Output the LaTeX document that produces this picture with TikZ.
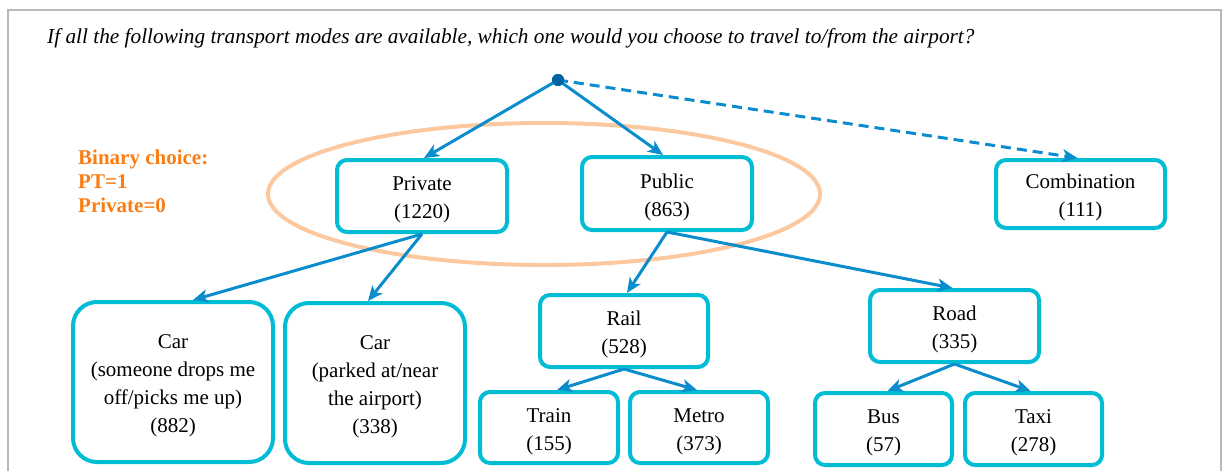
\documentclass[tikz,border=0pt]{standalone}
\usepackage{fontspec}
\setmainfont{Liberation Serif}
\usetikzlibrary{arrows.meta,calc}

\definecolor{boxcyan}{RGB}{0,188,212}
\definecolor{linkblue}{RGB}{10,140,205}
\definecolor{rootblue}{RGB}{0,100,160}
\definecolor{ringpeach}{RGB}{252,200,160}
\definecolor{noteorange}{RGB}{250,125,20}
\definecolor{framegray}{RGB}{185,185,185}

% extra room above the first text line of a box
\newcommand{\firstgap}{\rule{0pt}{22pt}}

\tikzset{
  box/.style={draw=boxcyan, line width=4, fill=white, rounded corners=10,
    align=center, inner sep=0, font=\fontsize{21}{28}\selectfont},
  bigbox/.style={box, rounded corners=24},
  link/.style={draw=linkblue, line width=3,
    -{Stealth[length=15, width=13, inset=4]}},
  dashlink/.style={link, dash pattern=on 10 off 6},
}

\begin{document}
\begin{tikzpicture}[x=1pt, y=-1pt]
\useasboundingbox (0,0) rectangle (1223,471);

% page frame
\draw[framegray, line width=1.3] (8,471) -- (8,10) -- (1221,10) -- (1221,471);

% question
\node[anchor=base west, inner sep=0, font=\fontsize{21.3}{24}\selectfont\itshape] (question) at (47,43.5)
  {If all the following transport modes are available, which one would you choose to travel to/from the airport?};

% binary choice note
\node[anchor=north west, inner sep=0, align=left, text=noteorange,
      font=\fontsize{21}{24}\selectfont\bfseries] (note) at (78,150)
  {Binary choice:\\PT=1\\Private=0};

% ring around the first split
\draw[ringpeach, line width=4] (544,194) ellipse [x radius=276, y radius=71];

% tree nodes
\node[box, minimum width=170, minimum height=72] (priv) at (422,196) {\firstgap Private\\(1220)};
\node[box, minimum width=170, minimum height=73] (pub) at (667,193.5) {\firstgap Public\\(863)};
\node[box, minimum width=169, minimum height=68] (comb) at (1080.5,194) {\firstgap Combination\\(111)};

\node[bigbox, minimum width=200, minimum height=160] (cardrop) at (173,382)
  {\firstgap Car\\(someone drops me\\off/picks me up)\\(882)};
\node[bigbox, minimum width=180, minimum height=160] (carpark) at (375,383)
  {\firstgap Car\\(parked at/near\\the airport)\\(338)};

\node[box, minimum width=168, minimum height=72] (rail) at (624,331) {\firstgap Rail\\(528)};
\node[box, minimum width=169, minimum height=72] (road) at (954.5,326) {\firstgap Road\\(335)};

\node[box, minimum width=138, minimum height=71] (train) at (549,427.5) {\firstgap Train\\(155)};
\node[box, minimum width=138, minimum height=71] (metro) at (699,427.5) {\firstgap Metro\\(373)};
\node[box, minimum width=137, minimum height=72] (bus) at (883.5,429) {\firstgap Bus\\(57)};
\node[box, minimum width=137, minimum height=72] (taxi) at (1033.5,429) {\firstgap Taxi\\(278)};

% root point
\node[circle, fill=rootblue, inner sep=0, minimum size=12] (root) at (558,80) {};

% connectors
\draw[link] (root.center) -- ([xshift=2]priv.north);
\draw[link] (root.center) -- ([xshift=-4]pub.north);
\draw[dashlink] (root.center) -- ([xshift=-3]comb.north);

\draw[link] (priv.south) -- ([xshift=20]cardrop.north);
\draw[link] (priv.south) -- ([xshift=-7]carpark.north);

\draw[link] (pub.south) -- ([xshift=3]rail.north);
\draw[link] (pub.south) -- ([xshift=-2]road.north);

\draw[link] (rail.south) -- ([xshift=8]train.north);
\draw[link] (rail.south) -- ([xshift=-2]metro.north);
\draw[link] (road.south) -- ([xshift=4]bus.north);
\draw[link] (road.south) -- ([xshift=-3]taxi.north);

% redraw the root point over the line ends
\fill[rootblue] (root) circle (6);
\end{tikzpicture}
\end{document}
